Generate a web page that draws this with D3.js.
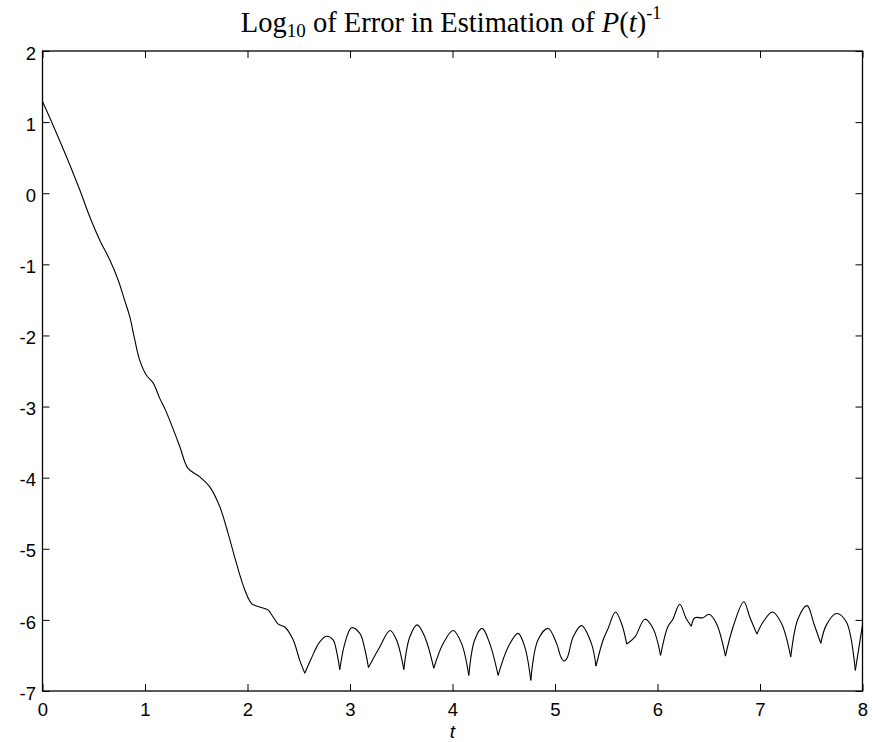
<!DOCTYPE html>
<html>
<head>
<meta charset="utf-8">
<script src="https://cdn.jsdelivr.net/npm/d3@7"></script>
<style>
  html, body { margin: 0; padding: 0; background: #fff; }
  svg { display: block; }
</style>
</head>
<body>
<svg id="chart" width="872" height="742"></svg>
<script>
// ---- data ----
const tVals = [
  0, 0.088, 0.234, 0.364, 0.461, 0.559, 0.657, 0.738, 0.80, 0.852, 0.90, 0.949, 1.014, 1.08, 1.144, 1.2, 1.27,
  1.34, 1.42, 1.535, 1.632, 1.73, 1.81, 1.893, 1.974, 2.04, 2.12, 2.2, 2.25, 2.30, 2.364, 2.445, 2.51,
  2.559, 2.62, 2.70, 2.77, 2.835, 2.87,
  2.90, 2.95, 3.015, 3.096, 3.146,
  3.18, 3.29, 3.39, 3.453,
  3.525, 3.583, 3.655, 3.73,
  3.817, 3.91, 4.006, 4.088,
  4.159, 4.217, 4.289, 4.363,
  4.445, 4.543, 4.64, 4.705,
  4.764, 4.835, 4.933, 5.015, 5.06, 5.089, 5.12, 5.177, 5.258, 5.355,
  5.40, 5.47, 5.518, 5.59, 5.649,
  5.70, 5.78, 5.876, 5.957,
  6.03, 6.10, 6.15, 6.217, 6.28,
  6.33, 6.364, 6.444, 6.503, 6.575,
  6.663, 6.737, 6.842, 6.90,
  6.97, 7.03, 7.122, 7.21,
  7.30, 7.372, 7.46, 7.525,
  7.593, 7.648, 7.745, 7.843,
  7.93, 8.0
];
const errVals = [
  1.29, 1.006, 0.513, 0.045, -0.33, -0.66, -0.94, -1.22, -1.50, -1.74, -2.06, -2.35, -2.56, -2.67, -2.885, -3.05, -3.3,
  -3.565, -3.87, -3.99, -4.13, -4.41, -4.78, -5.21, -5.58, -5.77, -5.82, -5.86, -5.96, -6.06, -6.10, -6.28, -6.57,
  -6.75, -6.55, -6.32, -6.23, -6.28, -6.45,
  -6.70, -6.33, -6.11, -6.19, -6.42,
  -6.67, -6.38, -6.15, -6.28,
  -6.70, -6.24, -6.07, -6.24,
  -6.68, -6.33, -6.15, -6.33,
  -6.78, -6.28, -6.12, -6.33,
  -6.78, -6.38, -6.19, -6.38,
  -6.85, -6.28, -6.12, -6.33, -6.53, -6.58, -6.53, -6.24, -6.08, -6.33,
  -6.65, -6.28, -6.12, -5.89, -6.05,
  -6.34, -6.24, -5.99, -6.12,
  -6.50, -6.10, -5.99, -5.78, -5.98,
  -6.09, -5.97, -5.97, -5.92, -6.05,
  -6.51, -6.10, -5.745, -5.96,
  -6.20, -6.03, -5.89, -6.05,
  -6.52, -5.98, -5.80, -6.05,
  -6.33, -6.07, -5.91, -6.03,
  -6.71, -6.07
];
// sharp (cusp) minima where the curve has a corner
const cuspT = [2.559, 2.90, 3.18, 3.525, 3.817, 4.159, 4.445, 4.764, 5.40, 5.70, 6.03, 6.33, 6.663, 6.97, 7.30, 7.593, 7.93];
const xTicks = [0, 1, 2, 3, 4, 5, 6, 7, 8];
const yTicks = [2, 1, 0, -1, -2, -3, -4, -5, -6, -7];

// ---- layout ----
const svg = d3.select("#chart");
const plotL = 42.5, plotR = 862.5, plotT = 51, plotB = 691;
const x = d3.scaleLinear().domain([0, 8]).range([plotL, plotR]);
const y = d3.scaleLinear().domain([-7, 2]).range([plotB, plotT]);
const tickFont = "'Liberation Sans', Arial, sans-serif";
const plainFmt = d => String(d);

// axes (ticks inward)
const gL = svg.append("g").attr("transform", `translate(${plotL},0)`)
  .call(d3.axisLeft(y).tickValues(yTicks).tickFormat(plainFmt).tickSizeInner(-7).tickSizeOuter(0).tickPadding(6.5));
const gR = svg.append("g").attr("transform", `translate(${plotR},0)`)
  .call(d3.axisRight(y).tickValues(yTicks).tickFormat("").tickSizeInner(-7).tickSizeOuter(0));
const gB = svg.append("g").attr("transform", `translate(0,${plotB})`)
  .call(d3.axisBottom(x).tickValues(xTicks).tickFormat(plainFmt).tickSizeInner(-7).tickSizeOuter(0).tickPadding(12));
const gT = svg.append("g").attr("transform", `translate(0,${plotT})`)
  .call(d3.axisTop(x).tickValues(xTicks).tickFormat("").tickSizeInner(-7).tickSizeOuter(0));

[gL, gR, gB, gT].forEach(g => {
  g.select(".domain").remove();
  g.selectAll(".tick line").attr("stroke", "#000").attr("stroke-width", 1);
  g.selectAll(".tick text").attr("fill", "#000").style("font-family", tickFont).style("font-size", "18.5px");
});
gL.selectAll(".tick text").attr("dy", "0.44em");

// frame
svg.append("rect")
  .attr("x", plotL).attr("y", plotT)
  .attr("width", plotR - plotL).attr("height", plotB - plotT)
  .attr("fill", "none").attr("stroke", "#000").attr("stroke-width", 1.3);

// ---- curve, split at cusps so the minima stay sharp ----
const pts = tVals.map((t, i) => [t, errVals[i]]);
const segments = [];
let cur = [];
pts.forEach(p => {
  cur.push(p);
  if (cuspT.includes(p[0])) { segments.push(cur); cur = [p]; }
});
if (cur.length > 1) segments.push(cur);

const line = d3.line()
  .x(d => x(d[0])).y(d => y(d[1]))
  .curve(d3.curveCatmullRom.alpha(0.5));

svg.append("g").selectAll("path").data(segments).join("path")
  .attr("d", line)
  .attr("fill", "none").attr("stroke", "#000").attr("stroke-width", 1.1)
  .attr("stroke-linejoin", "round");

// ---- title ----
const serif = "'Liberation Serif', 'Times New Roman', serif";
const title = svg.append("text")
  .attr("x", 451).attr("y", 32)
  .attr("text-anchor", "middle")
  .style("font-family", serif).style("font-size", "28.5px").attr("fill", "#000");
title.append("tspan").text("Log");
title.append("tspan").attr("dy", 5).style("font-size", "19px").text("10");
title.append("tspan").attr("dy", -5).text(" of Error in Estimation of ");
title.append("tspan").style("font-style", "italic").text("P");
title.append("tspan").text("(");
title.append("tspan").style("font-style", "italic").text("t");
title.append("tspan").text(")");
title.append("tspan").attr("dy", -13.5).style("font-size", "18px").text("-1");

// x-axis label
svg.append("text")
  .attr("x", (plotL + plotR) / 2).attr("y", 738)
  .attr("text-anchor", "middle")
  .style("font-family", tickFont).style("font-size", "19px").style("font-style", "italic")
  .attr("fill", "#000").text("t");
</script>
</body>
</html>
